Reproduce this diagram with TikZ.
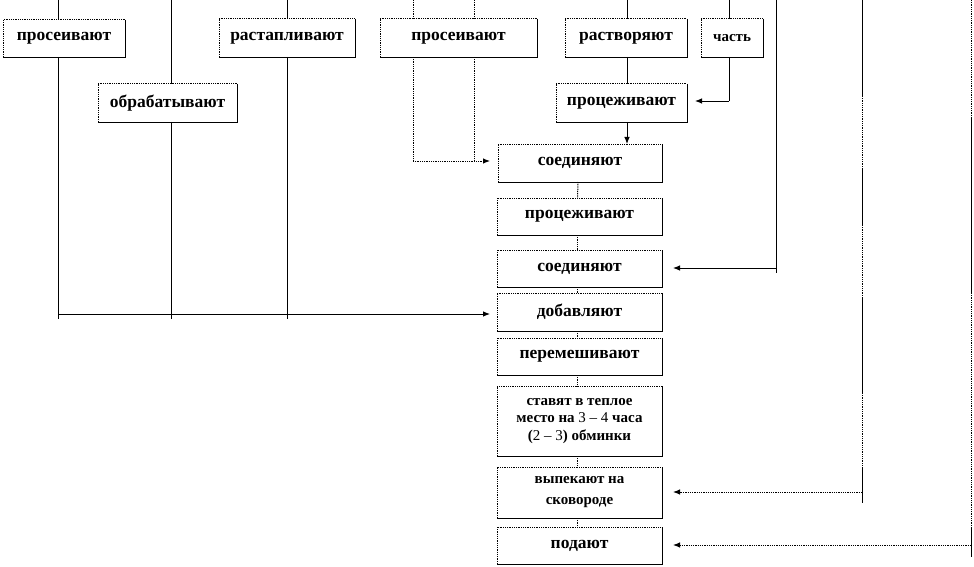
\documentclass[tikz,border=0pt]{standalone}
\usepackage{fontspec}
\setmainfont{Liberation Serif}
\usetikzlibrary{arrows.meta,calc}
\begin{document}
\begin{tikzpicture}[x=1pt,y=-1pt,
  box/.style={draw=none, inner sep=0pt, outer sep=0pt, align=center,
    font=\fontsize{17.5}{20}\selectfont\bfseries},
  sbox/.style={box, font=\fontsize{15}{17.5}\selectfont\bfseries},
  ln/.style={line width=0.9pt, black},
  dl/.style={line width=1pt, black, dash pattern=on 1pt off 0.8pt},
  arr/.style={-{Latex[length=7pt,width=5.5pt]}}]
\useasboundingbox (0,0) rectangle (974,567);
\fill[white] (0,0) rectangle (974,567);

% top row
\node[box, minimum width=122pt, minimum height=37pt] (A) at (64,38.5) {просеивают};
\node[box, minimum width=139pt, minimum height=38pt] (B) at (167.5,103) {обрабатывают};
\node[box, minimum width=136pt, minimum height=38pt] (C) at (287,38) {растапливают};
\node[box, minimum width=157pt, minimum height=38pt] (D) at (458.5,38) {просеивают};
\node[box, minimum width=122pt, minimum height=38pt] (E) at (626,38) {растворяют};
\node[sbox, minimum width=62pt, minimum height=38pt] (F) at (732,38) {часть};
\node[box, minimum width=131pt, minimum height=38pt] (G) at (621.5,103) {процеживают};
% main column
\node[box, minimum width=164pt, minimum height=38pt] (H) at (580,163) {соединяют};
\node[box, minimum width=165pt, minimum height=37pt] (I) at (579.5,216.5) {процеживают};
\node[box, minimum width=165pt, minimum height=37pt] (J) at (579.5,268.5) {соединяют};
\node[box, minimum width=165pt, minimum height=38pt] (K) at (579.5,312) {добавляют};
\node[box, minimum width=165pt, minimum height=37pt] (L) at (579.5,356.5) {перемешивают};
\node[sbox, minimum width=165pt, minimum height=70pt] (M) at (579.5,421) {ставят в теплое\\место на {\mdseries 3 – 4} часа\\({\mdseries 2 – 3}) обминки};
\node[sbox, minimum width=165pt, minimum height=51pt, font=\fontsize{15}{21}\selectfont\bfseries] (N) at (579.5,492.5) {выпекают на\\сковороде};
\node[box, minimum width=165pt, minimum height=37pt] (O) at (579.5,545.5) {подают};

% box borders: dotted top/left, solid right/bottom
\foreach \n in {A,B,C,D,E,F,G,H,I,J,K,L,M,N,O}{
  \draw[dl] (\n.south west) -- (\n.north west) -- (\n.north east);
  \draw[ln] (\n.north east) -- (\n.south east) -- (\n.south west);
}

% left vertical feeders
\coordinate (a0) at (58,0);   \coordinate (a1) at (58,319);
\coordinate (b0) at (171,0);  \coordinate (b1) at (171,319);
\coordinate (c0) at (287,0);  \coordinate (c1) at (287,319);
\coordinate (h1) at (58,314);
\draw[ln] (a0) -- (a0 |- A.north);
\draw[ln] (a0 |- A.south) -- (a1);
\draw[ln] (b0) -- (b0 |- B.north);
\draw[ln] (b0 |- B.south) -- (b1);
\draw[ln] (c0) -- (c0 |- C.north);
\draw[ln] (c0 |- C.south) -- (c1);
\draw[ln,arr] (h1) -- ($(h1 -| K.west)+(-7,0)$);

% dotted pair through D
\coordinate (d0) at (413,0); \coordinate (e0) at (474,0);
\coordinate (d1) at (413,161); \coordinate (e1) at (474,161);
\draw[dl] (d0) -- (d0 |- D.north);
\draw[dl] (e0) -- (e0 |- D.north);
\draw[dl] (d0 |- D.south) -- (d1);
\draw[dl] (e0 |- D.south) -- (e1);
\draw[dl,arr] (d1) -- ($(d1 -| H.west)+(-8,0)$);

% растворяют -> процеживают -> соединяют
\coordinate (f0) at (627,0);
\draw[ln] (f0) -- (f0 |- E.north);
\draw[ln] (f0 |- E.south) -- (f0 |- G.north);
\draw[ln,arr] (f0 |- G.south) -- (f0 |- H.north);

% часть -> процеживают
\coordinate (g0) at (729,0); \coordinate (g1) at (729,101);
\draw[ln] (g0) -- (g0 |- F.north);
\draw[ln] (g0 |- F.south) -- (g1);
\draw[ln,arr] (g1) -- ($(g1 -| G.east)+(8,0)$);

% x=776 -> соединяют (2)
\coordinate (j0) at (776,0); \coordinate (j1) at (776,273); \coordinate (j2) at (776,268);
\draw[ln] (j0) -- (j1);
\draw[ln,arr] (j2) -- ($(j2 -| J.east)+(11,0)$);

% x=862 -> выпекают
\coordinate (n0) at (862,0);
\coordinate (n1) at (862,96);
\coordinate (n2) at (862,168);
\coordinate (n3) at (862,225);
\coordinate (n4) at (862,297);
\coordinate (n5) at (862,393);
\coordinate (n6) at (862,467);
\coordinate (n7) at (862,503);
\coordinate (n8) at (862,492);
\draw[ln] (n0) -- (n1);
\draw[dl] (n1) -- (n2);
\draw[ln] (n2) -- (n3);
\draw[dl] (n3) -- (n4);
\draw[ln] (n4) -- (n5);
\draw[dl] (n5) -- (n6);
\draw[ln] (n6) -- (n7);
\draw[dl,arr] (n8) -- ($(n8 -| N.east)+(11,0)$);

% x=971 -> подают
\coordinate (o0) at (971,0);
\coordinate (o1) at (971,117);
\coordinate (o2) at (971,293);
\coordinate (o3) at (971,527);
\coordinate (o4) at (971,557);
\coordinate (o5) at (971,545);
\draw[dl] (o0) -- (o1);
\draw[ln] (o1) -- (o2);
\draw[dl] (o2) -- (o3);
\draw[ln] (o3) -- (o4);
\draw[dl,arr] (o5) -- ($(o5 -| O.east)+(11,0)$);

% short links in the main column
\foreach \u/\v in {H/I,I/J,J/K,K/L,L/M,M/N,N/O}{
  \draw[dl] ([xshift=-2pt]\u.south) -- ([xshift=-2pt]\v.north);
}
\end{tikzpicture}
\end{document}
